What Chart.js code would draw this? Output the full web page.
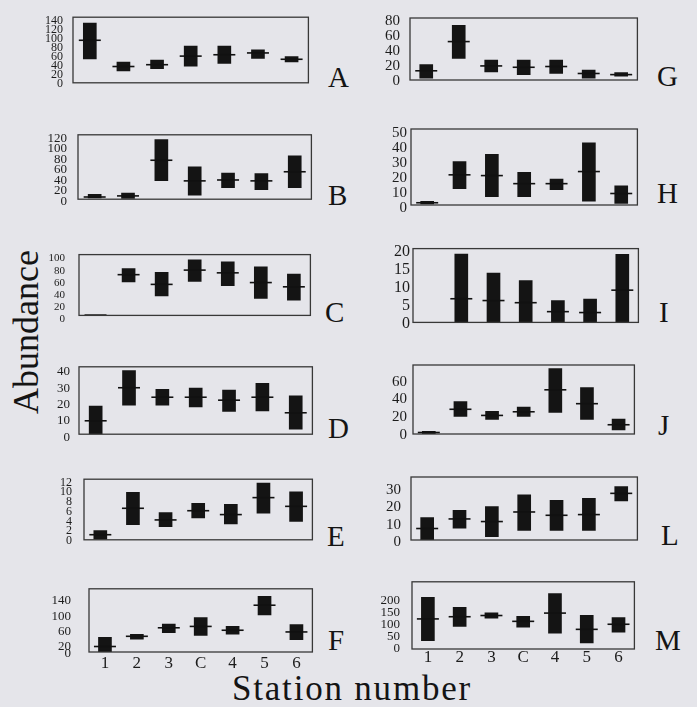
<!DOCTYPE html>
<html>
<head>
<meta charset="utf-8">
<script src="https://cdn.jsdelivr.net/npm/chart.js@4.4.0/dist/chart.umd.min.js"></script>
<style>
  html, body { margin:0; padding:0; }
  body { width:697px; height:707px; overflow:hidden; position:relative; background:#e5e5ea; font-family:"Liberation Serif","Times New Roman",serif; color:#141414; }
  canvas { position:absolute; }
  .letter { position:absolute; font-size:29px; line-height:29px; white-space:nowrap; }
  #ylab { position:absolute; font-size:36px; line-height:36px; width:300px; text-align:center; transform:rotate(-90deg); white-space:nowrap; }
  #xlab { position:absolute; font-size:35px; line-height:35px; letter-spacing:1.8px; white-space:nowrap; }
</style>
</head>
<body>
<div id="ylab">Abundance</div>
<div id="xlab">Station number</div>
<script>
// ---------- data ----------
const stations = ["1", "2", "3", "C", "4", "5", "6"];

const A_low  = [53, 26, 31, 37, 43, 54, 46];
const A_high = [132, 46, 50, 81, 81, 73, 58];
const A_mean = [94, 36, 40, 59, 62, 66, 52];
const A_ticks = [0, 20, 40, 60, 80, 100, 120, 140];

const B_low  = [2.5, 1.6, 35.6, 7.9, 22, 18.3, 22];
const B_high = [9.4, 11.5, 113.7, 61.8, 49.8, 48.7, 82.8];
const B_mean = [4.2, 6.3, 74.4, 35, 36.7, 35, 52.4];
const B_ticks = [0, 20, 40, 60, 80, 100, 120];

const C_low  = [null, 55, 32, 56, 49, 28, 25];
const C_high = [null, 77, 71, 91.5, 88, 80, 68];
const C_mean = [0.5, 67, 51, 74.5, 70, 54, 47];
const C_ticks = [0, 20, 40, 60, 80, 100];

const D_low  = [0, 17.8, 17.8, 16.7, 14, 14.2, 3];
const D_high = [17.2, 38.9, 27.4, 28.2, 27, 31.1, 23.4];
const D_mean = [8.2, 28.4, 22.6, 22.6, 20.8, 22.6, 13.1];
const D_ticks = [0, 10, 20, 30, 40];

const E_low  = [0.1, 3.1, 2.7, 4.5, 3.3, 5.5, 3.8];
const E_high = [1.9, 9.8, 5.6, 7.5, 7.3, 11.7, 9.9];
const E_mean = [1.05, 6.5, 4.1, 6, 5.2, 8.7, 6.9];
const E_ticks = [0, 2, 4, 6, 8, 10, 12];

const F_low  = [0, 34, 51, 43.6, 47.3, 98, 32.7];
const F_high = [38.5, 47, 74, 91, 67.6, 147, 72.7];
const F_mean = [14.5, 41.5, 64, 67.6, 57.5, 123.6, 53];
const F_ticks = [0, 20, 60, 100, 140];

const G_low  = [2.5, 28.9, 10.8, 7.2, 8.7, 2.5, 5];
const G_high = [20.6, 73, 26.7, 26.7, 26.7, 13.4, 9.8];
const G_mean = [12.3, 51.3, 18.8, 17, 18, 8.7, 7.2];
const G_ticks = [0, 20, 40, 60, 80];

const H_low  = [0.7, 11, 5.5, 5.5, 10.3, 2.6, 1.1];
const H_high = [2.4, 29, 34, 21.9, 17.3, 41.7, 12.9];
const H_mean = [1.5, 20.2, 19.7, 14.3, 14.3, 22.4, 7.7];
const H_ticks = [0, 10, 20, 30, 40, 50];

const I_low  = [null, 0, 0, 0, 0, 0, 0];
const I_high = [null, 19.1, 13.8, 11.7, 6.1, 6.5, 19];
const I_mean = [null, 6.6, 6.1, 5.5, 3, 2.75, 9];
const I_ticks = [0, 5, 10, 15, 20];

const J_low  = [0, 19.8, 16.3, 19.8, 24.3, 16.3, 4.5];
const J_high = [3.1, 36.5, 25.4, 30.3, 73.7, 52.2, 16.7];
const J_mean = [1.7, 27.8, 20.9, 25, 49.7, 34.1, 10.4];
const J_ticks = [0, 20, 40, 60];

const L_low  = [0, 6.8, 1.9, 5.5, 5.5, 5.5, 22.4];
const L_high = [12.9, 17, 19.2, 26, 22.8, 23.9, 30.7];
const L_mean = [6.6, 12.1, 10.6, 16.1, 14.2, 14.6, 26.8];
const L_ticks = [0, 10, 20, 30];

const M_low  = [34, 93, 127, 90, 65, 25, 69];
const M_high = [213, 172, 149, 135, 228, 139, 130];
const M_mean = [124, 133, 138, 114, 148, 81, 102];
const M_ticks = [0, 50, 100, 150, 200];

// ---------- layout / style ----------
const FONT = "'Liberation Serif','Times New Roman',serif";
const panels = [
  {id:'A', low:A_low, high:A_high, mean:A_mean, ticks:A_ticks, max:145,  box:[73,12,244,76],  fs:12, gap:10, off:1, letter:[328,87]},
  {id:'B', low:B_low, high:B_high, mean:B_mean, ticks:B_ticks, max:123,  box:[78,128,242,78], fs:13, gap:11, off:2, letter:[328,205]},
  {id:'C', low:C_low, high:C_high, mean:C_mean, ticks:C_ticks, max:100,  box:[79,246,240,78], fs:11, gap:14, off:4, letter:[325,322]},
  {id:'D', low:D_low, high:D_high, mean:D_mean, ticks:D_ticks, max:41.2, box:[79,362,242,77], fs:13, gap:9,  off:3, letter:[328,438]},
  {id:'E', low:E_low, high:E_high, mean:E_mean, ticks:E_ticks, max:12.5, box:[84,472,237,75], fs:12, gap:12, off:1, letter:[327,546]},
  {id:'F', low:F_low, high:F_high, mean:F_mean, ticks:F_ticks, max:167,  box:[89,575,232,77], fs:13, gap:18, off:2, letter:[328,650], showX:true, xpad:3},
  {id:'G', low:G_low, high:G_high, mean:G_mean, ticks:G_ticks, max:82.8, box:[410,11,236,76], fs:15, gap:10, off:1, letter:[657,86]},
  {id:'H', low:H_low, high:H_high, mean:H_mean, ticks:H_ticks, max:50.9, box:[411,128,235,78],fs:15, gap:4,  off:3, letter:[657,203]},
  {id:'I', low:I_low, high:I_high, mean:I_mean, ticks:I_ticks, max:20.6, box:[413,248,234,75],fs:16, gap:3,  off:1, letter:[659,322]},
  {id:'J', low:J_low, high:J_high, mean:J_mean, ticks:J_ticks, max:77.6, box:[413,362,230,75],fs:15, gap:6,  off:1, letter:[658,435]},
  {id:'L', low:L_low, high:L_high, mean:L_mean, ticks:L_ticks, max:36.2, box:[411,470,235,77],fs:15, gap:10, off:2, letter:[661,545]},
  {id:'M', low:M_low, high:M_high, mean:M_mean, ticks:M_ticks, max:277,  box:[412,574,231,75],fs:13, gap:12, off:0, letter:[655,650], showX:true, xpad:0}
];

const boxPlugin = {
  id: 'frameBox',
  afterDatasetsDraw(chart) {
    const {ctx, chartArea:a} = chart;
    ctx.save();
    ctx.strokeStyle = '#383838';
    ctx.lineWidth = 1.3;
    ctx.strokeRect(a.left, a.top, a.right - a.left, a.bottom - a.top);
    ctx.restore();
  }
};

panels.forEach(p => {
  const [bx, by, bw, bh] = p.box;
  const axisW = 60, padT = 12, padR = 4;
  const xH = p.showX ? 26 : 0;
  const padB = p.showX ? 0 : 12;
  const W = axisW + bw + padR, H = padT + bh + xH + padB;
  const cv = document.createElement('canvas');
  cv.width = W; cv.height = H;
  cv.style.width = W + 'px'; cv.style.height = H + 'px';
  cv.style.left = (bx - axisW) + 'px'; cv.style.top = (by - padT) + 'px';
  document.body.appendChild(cv);

  const ranges = p.low.map((l, i) => (l == null ? null : [l, p.high[i]]));

  new Chart(cv.getContext('2d'), {
    type: 'bar',
    data: {
      labels: stations,
      datasets: [
        { type:'bar', data: ranges, backgroundColor:'#141414', borderWidth:0, barThickness:13, order:2 },
        { type:'line', data: p.mean, showLine:false, pointStyle:'line', pointRadius:11, pointHoverRadius:11,
          pointBorderColor:'#111', pointBackgroundColor:'#111', pointBorderWidth:1.6, borderColor:'#111', order:1, clip:false }
      ]
    },
    options: {
      responsive: false, animation: false, events: [],
      layout: { padding: { top: padT, right: padR, bottom: padB, left: 0 } },
      plugins: { legend: { display:false }, tooltip: { enabled:false } },
      scales: {
        x: {
          display: !!p.showX,
          grid: { display:false, drawTicks:false }, border: { display:false },
          ticks: { font:{ family:FONT, size:17, lineHeight:1 }, color:'#1c1c1c', padding: p.xpad || 0, maxRotation:0, autoSkip:false },
          afterFit: s => { s.height = p.showX ? xH : 0; }
        },
        y: {
          min: 0, max: p.max,
          grid: { display:false, drawTicks:false }, border: { display:false },
          afterBuildTicks: s => { s.ticks = p.ticks.map(v => ({ value: v })); },
          ticks: { autoSkip:false, padding:p.gap, labelOffset:p.off, font:{ family:FONT, size:p.fs }, color:'#1c1c1c' },
          afterFit: s => { s.width = axisW; }
        }
      }
    },
    plugins: [boxPlugin]
  });

  const d = document.createElement('div');
  d.className = 'letter';
  d.textContent = p.id;
  d.style.left = p.letter[0] + 'px';
  d.style.top = (p.letter[1] - 24.3) + 'px';
  document.body.appendChild(d);
});

// axis titles
const yl = document.getElementById('ylab');
yl.style.left = (26 - 150) + 'px';
yl.style.top = (332 - 18) + 'px';
const xl = document.getElementById('xlab');
xl.style.left = '232px';
xl.style.top = (700 - 29.3) + 'px';
</script>
</body>
</html>
